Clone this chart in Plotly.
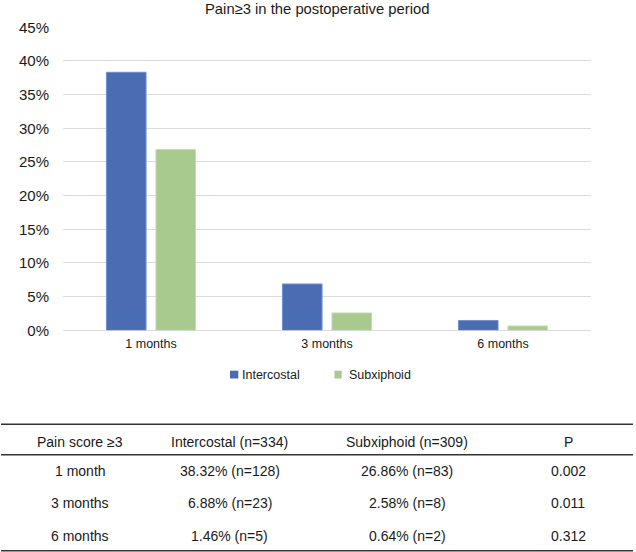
import plotly.graph_objects as go

W, H = 636, 552

# ---- data ----
categories = ["1 months", "3 months", "6 months"]
intercostal = [38.32, 6.88, 1.46]
subxiphoid = [26.86, 2.58, 0.64]
series_names = ["Intercostal", "Subxiphoid"]
title_text = "Pain≥3 in the postoperative period"

table_header = ["Pain score ≥3", "Intercostal (n=334)", "Subxiphoid (n=309)", "P"]
table_rows = [
    ["1 month", "38.32% (n=128)", "26.86% (n=83)", "0.002"],
    ["3 months", "6.88% (n=23)", "2.58% (n=8)", "0.011"],
    ["6 months", "1.46% (n=5)", "0.64% (n=2)", "0.312"],
]

# ---- style ----
FONT = "Liberation Sans, Arial, Helvetica, sans-serif"
BLUE, BLUE_EDGE = "#4A6CB3", "#7390CC"
GREEN, GREEN_EDGE = "#A9CA8F", "#C4DCB1"
TXT = "#1a1a1a"


def px(x):
    return x / W


def py(y):
    return 1 - y / H


fig = go.Figure()
fig.add_trace(go.Bar(x=categories, y=intercostal, name=series_names[0],
                     marker=dict(color=BLUE, line=dict(color=BLUE_EDGE, width=1)),
                     showlegend=False))
fig.add_trace(go.Bar(x=categories, y=subxiphoid, name=series_names[1],
                     marker=dict(color=GREEN, line=dict(color=GREEN_EDGE, width=1)),
                     showlegend=False))

annotations = []
shapes = []

# title
annotations.append(dict(text=title_text, x=px(317), y=py(0.5), xref="paper", yref="paper",
                         showarrow=False, xanchor="center", yanchor="top", borderpad=0,
                         font=dict(family=FONT, size=14.8, color=TXT)))

# legend (manual)
leg = [(series_names[0], BLUE, 230, 238.3, 240), (series_names[1], GREEN, 334.5, 341.7, 347)]
for name, col, x0, x1, tx in leg:
    shapes.append(dict(type="rect", xref="paper", yref="paper",
                       x0=px(x0), x1=px(x1), y0=py(378.5), y1=py(370.7),
                       fillcolor=col, line=dict(width=0)))
    annotations.append(dict(text=name, x=px(tx), y=py(374.5), xref="paper", yref="paper",
                             showarrow=False, xanchor="left", yanchor="middle",
                             font=dict(family=FONT, size=12.5, color=TXT)))

# table
col_x = [80, 229.5, 407.3, 568]
row_y = [441.7, 471, 502.7, 536]
for j, t in enumerate(table_header):
    annotations.append(dict(text=t, x=px(col_x[j]), y=py(row_y[0]), xref="paper", yref="paper",
                             showarrow=False, xanchor="center", yanchor="middle",
                             font=dict(family=FONT, size=14, color=TXT)))
for i, row in enumerate(table_rows):
    for j, t in enumerate(row):
        annotations.append(dict(text=t, x=px(col_x[j]), y=py(row_y[i + 1]), xref="paper",
                                 yref="paper", showarrow=False, xanchor="center",
                                 yanchor="middle",
                                 font=dict(family=FONT, size=14, color=TXT)))
for yl in [424.3, 454.8, 550.7]:
    shapes.append(dict(type="line", xref="paper", yref="paper",
                       x0=px(1), x1=px(633), y0=py(yl), y1=py(yl),
                       line=dict(color="#333333", width=1.4)))

fig.update_layout(
    width=W, height=H,
    margin=dict(l=0, r=0, t=0, b=0, autoexpand=False),
    paper_bgcolor="white", plot_bgcolor="white",
    barmode="group", bargap=0.4375, bargroupgap=0.2,
    font=dict(family=FONT, color=TXT),
    xaxis=dict(domain=[px(63), px(591)], showgrid=False, showline=False, ticks="",
               automargin=False,
               tickfont=dict(size=12.5, color=TXT), ticklabelstandoff=4),
    yaxis=dict(domain=[py(330.3), py(27.3)], range=[0, 45], dtick=5, ticksuffix="%",
               automargin=False,
               showgrid=True, gridcolor="#DCDCDC", gridwidth=1, zeroline=True,
               zerolinecolor="#DCDCDC", zerolinewidth=1, showline=False, ticks="",
               tickfont=dict(size=15, color=TXT), ticklabelstandoff=13),
    annotations=annotations, shapes=shapes,
)

post = (
    "document.documentElement.style.margin='0';"
    "document.documentElement.style.overflow='hidden';"
    "document.body.style.margin='0';document.body.style.padding='0';"
    "document.body.style.overflow='hidden';"
    "var gd=document.getElementById('{plot_id}');"
    "gd.style.position='fixed';gd.style.left='0px';gd.style.top='0px';"
)
fig.write_html("out.html", config={"displayModeBar": False, "staticPlot": True},
               post_script=post)
